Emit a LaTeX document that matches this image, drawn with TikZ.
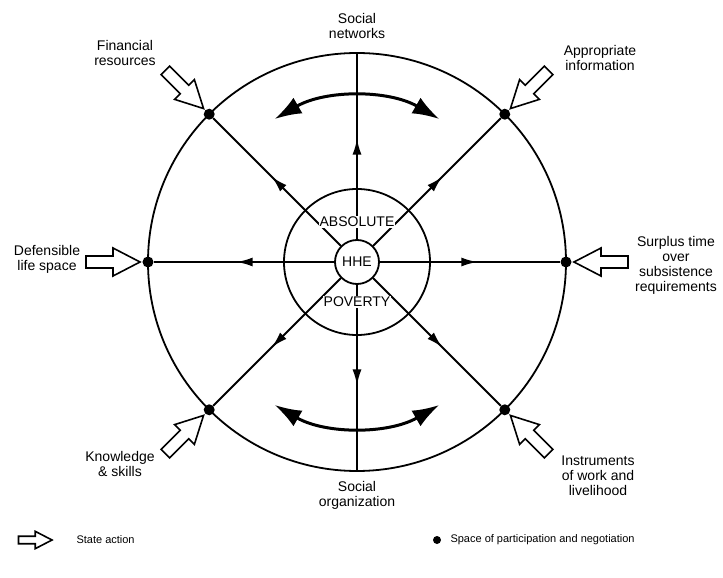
\documentclass[tikz,border=0pt]{standalone}
\usepackage{fontspec}
\setmainfont{Liberation Sans}
\usetikzlibrary{arrows.meta,decorations.markings}

\begin{document}
\begin{tikzpicture}[x=1pt, y=1pt,
    ring/.style={draw=black, line width=1.8pt},
    spoke/.style={draw=black, line width=1.8pt, postaction={decorate},
      decoration={markings, mark=at position 0.54 with {\arrow{Latex[length=16pt,width=9pt]}}}},
    site/.style={circle, fill=black, minimum size=11pt, inner sep=0pt},
    swing/.style={draw=black, line width=3pt,
      {Latex[length=27pt,width=18pt]}-{Latex[length=27pt,width=18pt]}},
    lbl/.style={font=\fontsize{14}{15}\selectfont, align=center},
    word/.style={font=\fontsize{14}{15}\selectfont, fill=white, inner sep=1pt},
    key/.style={font=\fontsize{11}{13}\selectfont, anchor=west},
    statearrow/.pic={\draw[line width=1.6pt, fill=white, miter limit=10]
      (0,0) -- (-27,14) -- (-27,6) -- (-54,6) -- (-54,-6) -- (-27,-6) -- (-27,-14) -- cycle;},
  ]

  \useasboundingbox (-357,-316) rectangle (366,262);

  % ---- the two rings and the household in the middle
  \draw[ring] (0,0) circle[radius=209];
  \draw[ring] (0,0) circle[radius=73];
  \node[circle, draw, line width=1.8pt, minimum size=44pt, inner sep=0pt, lbl] (hhe) at (0,0) {HHE};

  % ---- spaces of participation on the outer ring
  \foreach \a in {0,45,135,180,225,315}
    \node[site] (d\a) at (\a:209) {};
  \coordinate (d90) at (90:209);
  \coordinate (d270) at (270:209);

  % ---- spokes out of poverty
  \foreach \a in {0,45,...,315}
    \draw[spoke] (hhe) -- (d\a);

  \node[word] (absolute) at (0,40) {ABSOLUTE};
  \node[word] (poverty) at (0,-40) {POVERTY};

  % ---- swinging arrows inside the ring
  \draw[swing] (120:165) arc[start angle=120, end angle=60, radius=165];
  \draw[swing] (240:165) arc[start angle=240, end angle=300, radius=165];

  % ---- state action pointing at each space
  \foreach \a in {0,45,135,180,225,315}
    \pic[rotate=\a+180] at (\a:217) {statearrow};

  % ---- labels round the ring
  \node[lbl] (lblnet) at (0,236) {Social\\networks};
  \node[lbl] (lblorg) at (0,-233) {Social\\organization};
  \node[lbl] (lblfin) at (-232,209) {Financial\\resources};
  \node[lbl] (lblinfo) at (243,204) {Appropriate\\information};
  \node[lbl] (lbllife) at (-310,3) {Defensible\\life space};
  \node[lbl] (lbltime) at (319,-3) {Surplus time\\over\\subsistence\\requirements};
  \node[lbl] (lblskill) at (-237,-202) {Knowledge\\\& skills};
  \node[lbl] (lblwork) at (241,-214) {Instruments\\of work and\\livelihood};

  % ---- key
  \pic[scale=0.62] at (-305,-278) {statearrow};
  \node[key] (keystate) at (-284,-278) {State action};
  \node[site, minimum size=8pt] (keydot) at (80,-278) {};
  \node[key] (keyspace) at (90,-278) {Space of participation and negotiation};

\end{tikzpicture}
\end{document}
